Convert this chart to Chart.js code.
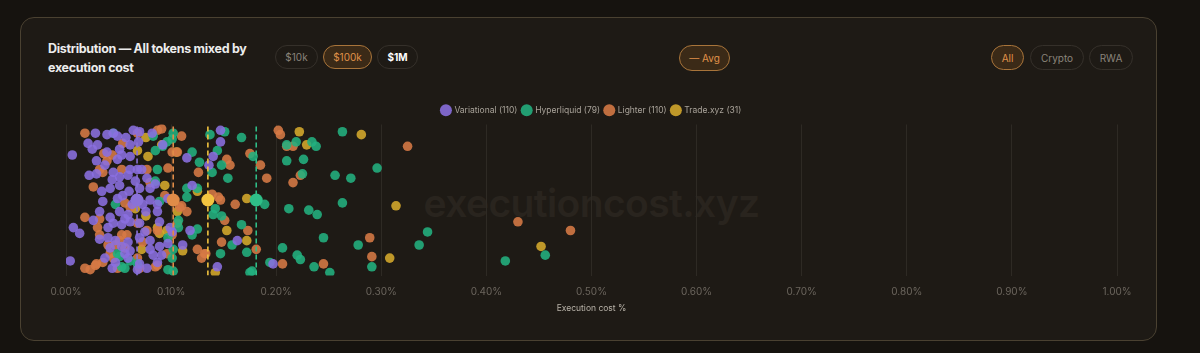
<!DOCTYPE html>
<html>
<head>
<meta charset="utf-8">
<script src="https://cdn.jsdelivr.net/npm/chart.js@4.4.1/dist/chart.umd.min.js"></script>
<style>
  body { margin: 0; width: 1200px; height: 353px; overflow: hidden; background: #16130f; font-family: Inter, "Noto Sans", sans-serif; }
  .card { position: absolute; left: 20px; top: 17px; width: 1135px; height: 322px; border: 1px solid #4a4131; border-radius: 14px; background: #1e1a15; }
  .title { position: absolute; left: 48px; top: 39px; font-weight: 700; font-size: 12.5px; line-height: 19px; color: #ececec; letter-spacing: -0.3px; white-space: nowrap; }
  .pill { position: absolute; top: 45px; height: 24px; box-sizing: border-box; border: 1px solid #35302a; border-radius: 13px; color: #8a847b; font-size: 10px; display: flex; align-items: center; justify-content: center; }
  .pill.on { background: #3b2a17; border-color: #a8743a; color: #e0924a; }
  .pill.strong { color: #ffffff; font-weight: 700; }
  .watermark { position: absolute; left: 0; width: 1183px; top: 179px; text-align: center; font-size: 39px; font-weight: 600; color: #29241e; letter-spacing: -0.6px; }
  .wrap { position: absolute; left: 20px; top: 96px; width: 1137px; height: 234px; }
</style>
</head>
<body>
<div class="card"></div>
<div class="title">Distribution — All tokens mixed by<br>execution cost</div>
<div class="pill" style="left:275px;width:43px">$10k</div>
<div class="pill on" style="left:323px;width:49px">$100k</div>
<div class="pill strong" style="left:377px;width:41px">$1M</div>
<div class="pill on" style="left:679px;width:51px;height:26px">— Avg</div>
<div class="pill on" style="left:991px;width:33px;height:25px">All</div>
<div class="pill" style="left:1030px;width:54px;height:25px">Crypto</div>
<div class="pill" style="left:1089px;width:44px;height:25px">RWA</div>
<div class="watermark">executioncost.xyz</div>
<div class="wrap"><canvas id="chart"></canvas></div>
<script>
// x = execution cost in %, y = vertical jitter (0..100)
const variationalPts = [
  [0.028,96],[0.039,95],[0.049,94],[0.057,93],[0.064,98],[0.070,97],[0.021,89],[0.030,88],[0.025,85],[0.051,85],
  [0.061,88],[0.069,90],[0.053,81],[0.061,80],[0.049,78],[0.037,74],[0.022,67],[0.029,68],[0.044,64],[0.051,66],
  [0.059,67],[0.068,71],[0.077,65],[0.034,56],[0.042,58],[0.051,60],[0.060,56],[0.070,58],[0.080,58],[0.073,47],
  [0.080,50],[0.097,51],[0.051,42],[0.059,40],[0.042,38],[0.032,42],[0.076,42],[0.087,42],[0.040,31],[0.053,33],
  [0.061,35],[0.045,34],[0.070,34],[0.089,35],[0.099,31],[0.032,23],[0.047,22],[0.059,21],[0.070,24],[0.080,22],
  [0.101,28],[0.118,29],[0.042,17],[0.053,18],[0.061,15],[0.080,16],[0.089,18],[0.097,20],[0.037,10],[0.047,7],
  [0.059,10],[0.070,6],[0.083,12],[0.087,7],[0.111,19],[0.115,79],[0.120,60],[0.140,80],[0.147,98],[0.147,90],
  [0.163,22],[0.197,6],[0.144,4],[0.068,2],[0.044,3],[0.077,3],[0.056,37],[0.029,77],[0.039,83],[0.045,69],
  [0.054,53],[0.066,63],[0.035,49],[0.087,47],[0.026,36],[0.061,71],[0.072,71],[0.006,81],[0.007,31],[0.013,27],
  [0.004,8],[0.136,74],[0.082,96],[0.045,96],[0.049,51],[0.063,47],[0.092,88],[0.085,61],[0.040,24],[0.075,28],
  [0.056,13],[0.091,12]
];
const hyperliquidPts = [
  [0.045,96],[0.083,94],[0.096,90],[0.102,96],[0.101,92],[0.085,84],[0.120,83],[0.127,76],[0.137,95],[0.144,84],
  [0.148,74],[0.139,69],[0.154,65],[0.087,71],[0.085,63],[0.089,49],[0.047,47],[0.115,58],[0.115,52],[0.125,58],
  [0.142,44],[0.140,40],[0.148,39],[0.167,33],[0.107,36],[0.107,31],[0.120,26],[0.125,30],[0.097,24],[0.158,19],
  [0.147,13],[0.102,16],[0.049,13],[0.053,4],[0.097,2],[0.102,1],[0.172,14],[0.177,1],[0.194,7],[0.206,17],
  [0.210,77],[0.210,88],[0.167,93],[0.189,47],[0.178,80],[0.151,97],[0.219,90],[0.234,90],[0.238,87],[0.226,78],
  [0.225,68],[0.263,97],[0.296,72],[0.256,67],[0.271,65],[0.212,44],[0.231,43],[0.239,40],[0.263,48],[0.344,28],
  [0.245,24],[0.278,19],[0.336,19],[0.220,12],[0.223,9],[0.236,4],[0.251,0],[0.291,4],[0.418,8],[0.456,12],
  [0.175,0],[0.092,87],[0.051,11],[0.056,3],[0.061,8],[0.068,6],[0.101,10]
];
const lighterPts = [
  [0.018,96],[0.068,96],[0.087,98],[0.091,99],[0.110,94],[0.054,89],[0.036,82],[0.044,81],[0.032,71],[0.035,69],
  [0.026,59],[0.053,71],[0.077,71],[0.097,72],[0.101,83],[0.106,83],[0.080,62],[0.094,53],[0.110,46],[0.115,42],
  [0.061,45],[0.056,48],[0.018,38],[0.032,37],[0.030,31],[0.032,26],[0.053,26],[0.058,26],[0.051,22],[0.077,29],
  [0.068,34],[0.106,34],[0.101,26],[0.040,19],[0.047,19],[0.056,17],[0.068,10],[0.087,5],[0.096,13],[0.018,3],
  [0.023,2],[0.028,5],[0.035,7],[0.049,3],[0.070,3],[0.125,16],[0.132,13],[0.126,69],[0.153,78],[0.156,74],
  [0.175,82],[0.185,74],[0.191,65],[0.139,54],[0.145,52],[0.147,50],[0.161,47],[0.151,36],[0.148,21],[0.173,29],
  [0.181,16],[0.202,98],[0.204,95],[0.210,87],[0.216,87],[0.223,67],[0.216,62],[0.133,13],[0.206,6],[0.245,6],
  [0.289,24],[0.291,11],[0.325,87],[0.430,35],[0.480,29],[0.039,77],[0.042,13],[0.029,6],[0.045,10],[0.073,21],
  [0.085,4],[0.129,10],[0.108,45],[0.087,29]
];
const tradeXyzPts = [
  [0.076,93],[0.068,84],[0.078,80],[0.091,88],[0.105,83],[0.094,60],[0.125,56],[0.172,51],[0.066,44],[0.076,39],
  [0.106,42],[0.087,31],[0.153,29],[0.172,22],[0.072,16],[0.111,15],[0.142,0],[0.096,29],[0.222,97],[0.229,88],
  [0.281,95],[0.314,46],[0.308,10],[0.452,18],[0.089,27]
];

const seriesNames = ['Variational', 'Hyperliquid', 'Lighter', 'Trade.xyz'];
const seriesCounts = [110, 79, 110, 31];
const seriesColors = ['#8b70e0', '#23b07f', '#d77a45', '#d6aa2c'];
const avgLineColors = ['#8a72d8', '#e08c48', '#f2c440', '#2fbf88'];
const seriesAvg = [0.0676, 0.102, 0.135, 0.181];
const xTicks = [0, 0.1, 0.2, 0.3, 0.4, 0.5, 0.6, 0.7, 0.8, 0.9, 1.0];

const allPts = [variationalPts, hyperliquidPts, lighterPts, tradeXyzPts];

const datasets = [];

allPts.forEach((pts, i) => {
    datasets.push({
        type: 'scatter',
        label: `${seriesNames[i]} (${seriesCounts[i]})`,
        data: pts.map(([x, y]) => ({ x, y })),
        backgroundColor: seriesColors[i] + 'e0',
        borderWidth: 0,
        pointRadius: 4.8,
        order: 2,
    });
});

// Average markers: dashed line + a larger dot in the middle
seriesAvg.forEach((avg, i) => {
    datasets.push({
        type: 'line',
        label: 'avg-line',
        data: [{ x: avg, y: -2 }, { x: avg, y: 102 }],
        borderColor: avgLineColors[i],
        borderWidth: 1.6,
        borderDash: [5, 3],
        pointRadius: 0,
        order: 1,
    });
    datasets.push({
        type: 'scatter',
        label: 'avg-dot',
        data: [{ x: avg, y: 50 }],
        backgroundColor: avgLineColors[i],
        borderWidth: 0,
        pointRadius: 6.5,
        order: 0,
    });
});

const ctx = document.getElementById('chart').getContext('2d');
new Chart(ctx, {
    data: { datasets },
    options: {
        responsive: true,
        maintainAspectRatio: false,
        animation: false,
        layout: { padding: { left: 46, right: 40, top: 5, bottom: 17 } },
        plugins: {
            tooltip: { enabled: false },
            legend: {
                position: 'top',
                labels: {
                    filter: (item) => !item.text.startsWith('avg'),
                    usePointStyle: true,
                    pointStyle: 'circle',
                    boxWidth: 11,
                    boxHeight: 11,
                    padding: 5,
                    color: '#a9a39a',
                    font: { size: 8.5, family: 'Inter, sans-serif' },
                },
            },
        },
        scales: {
            x: {
                type: 'linear',
                min: 0,
                max: 1,
                afterBuildTicks: (axis) => { axis.ticks = xTicks.map(v => ({ value: v })); },
                ticks: {
                    color: '#6b655d',
                    font: { size: 10, family: 'Inter, sans-serif' },
                    padding: 10,
                    callback: (v) => v.toFixed(2) + '%',
                },
                grid: { color: '#2e2a24', drawTicks: false },
                border: { display: false },
                title: {
                    display: true,
                    text: 'Execution cost %',
                    color: '#b8b2a8',
                    font: { size: 8.5, family: 'Inter, sans-serif', lineHeight: 1 },
                    padding: { top: -3, bottom: 0 },
                },
            },
            y: {
                display: false,
                min: -2,
                max: 102,
            },
        },
    },
});
</script>
</body>
</html>
